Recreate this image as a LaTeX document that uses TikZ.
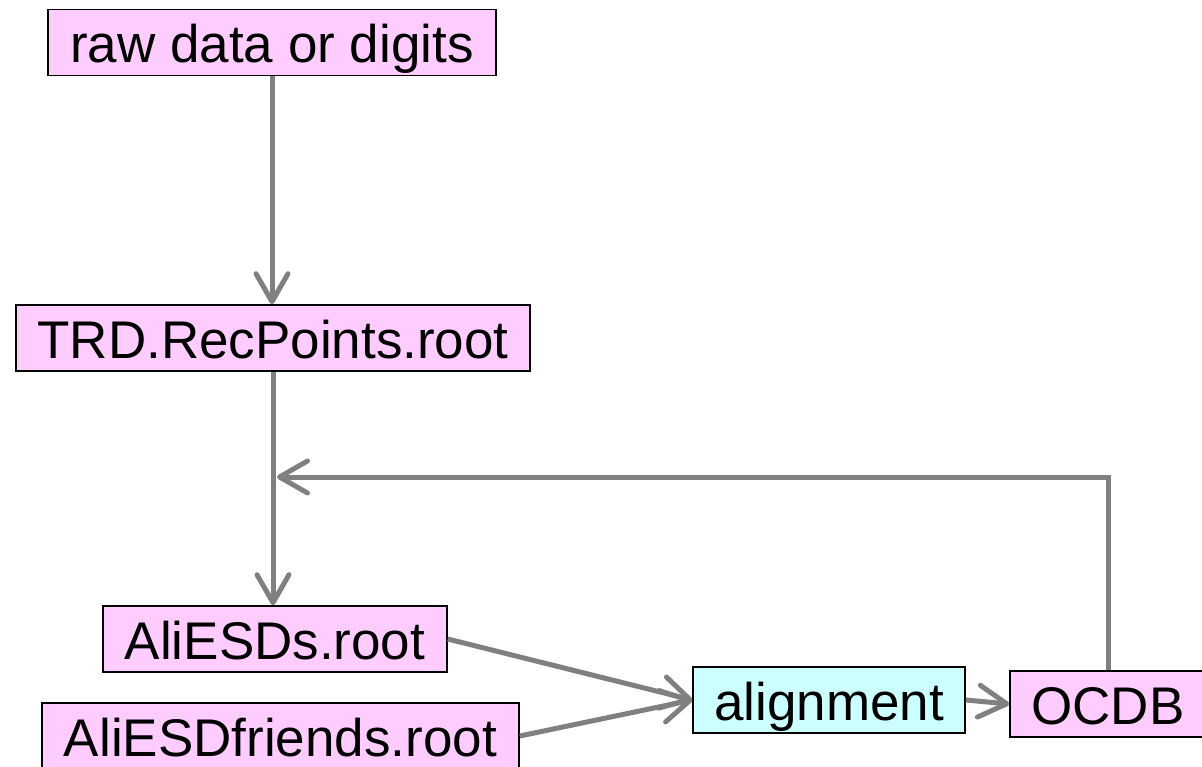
\documentclass[tikz,border=0pt]{standalone}
\usepackage{fontspec}
\setmainfont{Liberation Sans}
\usetikzlibrary{arrows.meta}
\definecolor{pinkbox}{HTML}{FFCCFF}
\definecolor{cyanbox}{HTML}{CCFFFF}
\definecolor{linegray}{HTML}{808080}
\tikzset{
  box/.style={draw=black, line width=1.6pt, fill=pinkbox, inner xsep=0pt, inner ysep=0pt,
    text height=53pt, text depth=13pt, font=\fontsize{53}{60}\selectfont},
  algbox/.style={box, fill=cyanbox},
  conn/.style={draw=linegray, line width=5pt,
    -{Straight Barb[length=28pt,width=32pt,round]}}
}
\begin{document}
\begin{tikzpicture}[x=1pt,y=-1pt]
\useasboundingbox (0,0) rectangle (1202,767);
\node[box, minimum width=448pt] (raw) at (272,42.5) {raw data or digits};
\node[box, minimum width=514pt] (trd) at (273,338) {TRD.RecPoints.root};
\node[box, minimum width=344pt] (esds) at (275,639) {AliESDs.root};
\node[box, minimum width=477pt] (friends) at (280.5,736) {AliESDfriends.root};
\node[algbox, minimum width=272pt] (align) at (829,700) {alignment};
\node[box, minimum width=204pt] (ocdb) at (1112,704) {\hspace*{-8pt}OCDB};
\coordinate (fb) at (277,477);
\draw[conn] (raw.south) -- (raw.south |- trd.north);
\draw[conn] (trd.south) -- (trd.south |- esds.north);
\draw[conn] (esds.east) -- (align.west);
\draw[conn] (friends.east) -- (align.west);
\draw[conn] (align.east) -- (ocdb.west);
\draw[conn] ([xshift=-4pt]ocdb.north) |- (fb);
\end{tikzpicture}
\end{document}
